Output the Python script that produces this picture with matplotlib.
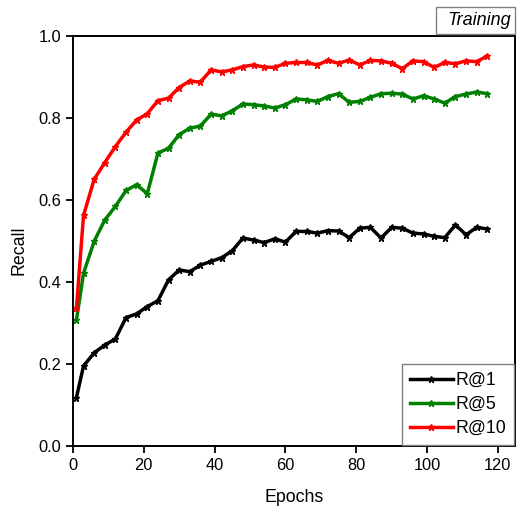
import matplotlib
matplotlib.use("Agg")
import matplotlib.pyplot as plt
from matplotlib.ticker import FormatStrFormatter
from matplotlib.patches import Rectangle

plt.rcParams['font.family'] = ['Liberation Sans', 'DejaVu Sans']

epochs = [1, 3, 6, 9, 12, 15, 18, 21, 24, 27, 30, 33, 36, 39, 42, 45, 48, 51, 54, 57,
          60, 63, 66, 69, 72, 75, 78, 81, 84, 87, 90, 93, 96, 99, 102, 105, 108, 111, 114, 117]

r1 = [0.118, 0.195, 0.227, 0.246, 0.261, 0.313, 0.322, 0.340, 0.354, 0.405,
      0.429, 0.425, 0.441, 0.450, 0.459, 0.476, 0.507, 0.502, 0.496, 0.505,
      0.497, 0.523, 0.523, 0.519, 0.525, 0.524, 0.508, 0.531, 0.533, 0.507,
      0.533, 0.531, 0.519, 0.517, 0.511, 0.508, 0.539, 0.515, 0.533, 0.529]

r5 = [0.307, 0.421, 0.499, 0.551, 0.584, 0.623, 0.637, 0.615, 0.714, 0.726,
      0.759, 0.775, 0.780, 0.809, 0.805, 0.817, 0.834, 0.832, 0.829, 0.824,
      0.832, 0.846, 0.844, 0.840, 0.852, 0.859, 0.838, 0.840, 0.850, 0.859,
      0.860, 0.858, 0.846, 0.854, 0.846, 0.836, 0.852, 0.858, 0.863, 0.859]

r10 = [0.336, 0.562, 0.650, 0.691, 0.730, 0.765, 0.795, 0.810, 0.842, 0.848,
       0.874, 0.890, 0.887, 0.917, 0.912, 0.917, 0.925, 0.929, 0.924, 0.923,
       0.933, 0.935, 0.935, 0.929, 0.940, 0.933, 0.941, 0.929, 0.940, 0.939,
       0.933, 0.920, 0.939, 0.937, 0.923, 0.935, 0.932, 0.939, 0.937, 0.951]

series = [("R@1", r1, "black"), ("R@5", r5, "green"), ("R@10", r10, "red")]

W, H = 517, 512
fig = plt.figure(figsize=(W / 100, H / 100), dpi=100)
ax = fig.add_axes([0.141, 0.129, 0.855, 0.801])

for name, vals, col in series:
    ax.plot(epochs, vals, color=col, lw=2.5, marker='*', ms=5,
            mec=col, mfc=col, label=name)

ax.set_xlim(0, 124.8)
ax.set_ylim(0, 1.0)
ax.set_xticks([0, 20, 40, 60, 80, 100, 120])
ax.set_yticks([0.0, 0.2, 0.4, 0.6, 0.8, 1.0])
ax.yaxis.set_major_formatter(FormatStrFormatter('%.1f'))
ax.tick_params(direction='out', length=5, width=1.3, labelsize=11.8)
for s in ax.spines.values():
    s.set_linewidth(1.4)
    s.set_color('black')

ax.set_xlabel("Epochs", fontsize=12.8, labelpad=12)
ax.set_ylabel("Recall", fontsize=12.8)
ax.yaxis.set_label_coords(-0.102, 0.476)

leg = ax.legend(loc='lower right', borderaxespad=0.05, fancybox=False,
                fontsize=12.8, handlelength=2.4, handletextpad=0.15,
                labelspacing=0.4, borderpad=0.45, framealpha=1)
leg.get_frame().set_edgecolor('gray')
leg.get_frame().set_linewidth(1.0)

# "Training" label box above the top-right corner of the plot
fig.patches.append(Rectangle((435.5 / W, 1 - 34 / H), 79.5 / W, 27 / H,
                             transform=fig.transFigure, fill=True, fc='white',
                             ec='gray', lw=1.0))
fig.text(511 / W, 1 - 20.5 / H, "Training", ha='right', va='center',
         fontsize=13, fontstyle='italic')

fig.savefig("out.png", dpi=100)
